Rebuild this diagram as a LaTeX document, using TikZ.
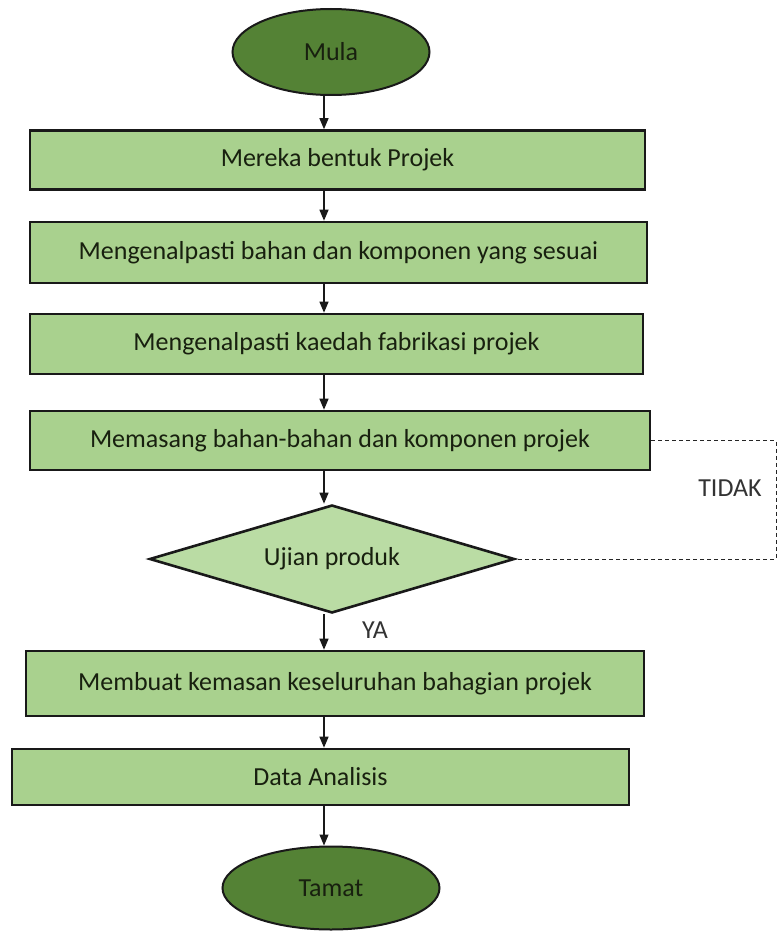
\documentclass[tikz,border=0pt]{standalone}
\usepackage{fontspec}
\setmainfont{Carlito}
\usetikzlibrary{shapes.geometric,arrows.meta}
\definecolor{boxfill}{HTML}{A9D18E}
\definecolor{diafill}{HTML}{BADCA4}
\definecolor{ellfill}{HTML}{548235}
\definecolor{txt}{HTML}{18200F}
\begin{document}
\begin{tikzpicture}[x=1pt,y=-1pt,
  font=\fontsize{26}{30}\selectfont,
  stepbox/.style={draw=black!90,line width=2.6pt,fill=boxfill,text=txt,inner sep=0pt,minimum height=60pt},
  term/.style={ellipse,draw=black!90,line width=2pt,fill=ellfill,text=txt,inner sep=0pt},
  decide/.style={diamond,aspect=3.4,draw=black!90,line width=2.6pt,fill=diafill,text=txt,inner sep=0pt,minimum width=365pt,minimum height=108pt},
  arr/.style={-{Triangle[length=11pt,width=9pt]},line width=1.2pt,black!90},
  dashline/.style={dashed,dash pattern=on 4pt off 3pt,line width=1pt,black!85},
  lbl/.style={text=black!80,inner sep=0pt}
]
\useasboundingbox (0,0) rectangle (777,931);
\fill[white] (0,0) rectangle (777,931);

\node[term,minimum width=197pt,minimum height=86pt] (mula) at (331,52) {Mula};
\node[stepbox,minimum width=615pt,minimum height=59pt] (b1) at (337.5,160) {Mereka bentuk Projek};
\node[stepbox,minimum width=617pt,minimum height=61pt] (b2) at (338.5,252.5) {Mengenalpasti bahan dan komponen yang sesuai};
\node[stepbox,minimum width=613pt,minimum height=60pt] (b3) at (336.5,344) {Mengenalpasti kaedah fabrikasi projek};
\node[stepbox,minimum width=620pt,minimum height=59pt] (b4) at (340,440.5) {Memasang bahan-bahan dan komponen projek};
\node[decide] (dia) at (332,559) {Ujian produk};
\node[stepbox,minimum width=618pt,minimum height=65pt] (b5) at (335,683.5) {Membuat kemasan keseluruhan bahagian projek};
\node[stepbox,minimum width=617pt,minimum height=56pt] (b6) at (320.5,777) {Data Analisis};
\node[term,minimum width=217pt,minimum height=83pt] (tamat) at (331,888) {Tamat};

\node[lbl] (tidak) at (730,488) {TIDAK};
\node[lbl] (ya) at (375,630) {YA};

\coordinate (ax) at (324,0);
\coordinate (rx) at (776,0);

\draw[arr] (ax |- mula.south) -- (ax |- b1.north);
\draw[arr] (ax |- b1.south) -- (ax |- b2.north);
\draw[arr] (ax |- b2.south) -- (ax |- b3.north);
\draw[arr] (ax |- b3.south) -- (ax |- b4.north);
\draw[arr] (ax |- b4.south) -- (ax |- dia.north);
\draw[arr] (ax |- dia.south) -- (ax |- b5.north);
\draw[arr] (ax |- b5.south) -- (ax |- b6.north);
\draw[arr] (ax |- b6.south) -- (ax |- tamat.north);

\draw[dashline] (b4.east) -- (rx |- b4.east) -- (rx |- dia.east) -- (dia.east);
\end{tikzpicture}
\end{document}
